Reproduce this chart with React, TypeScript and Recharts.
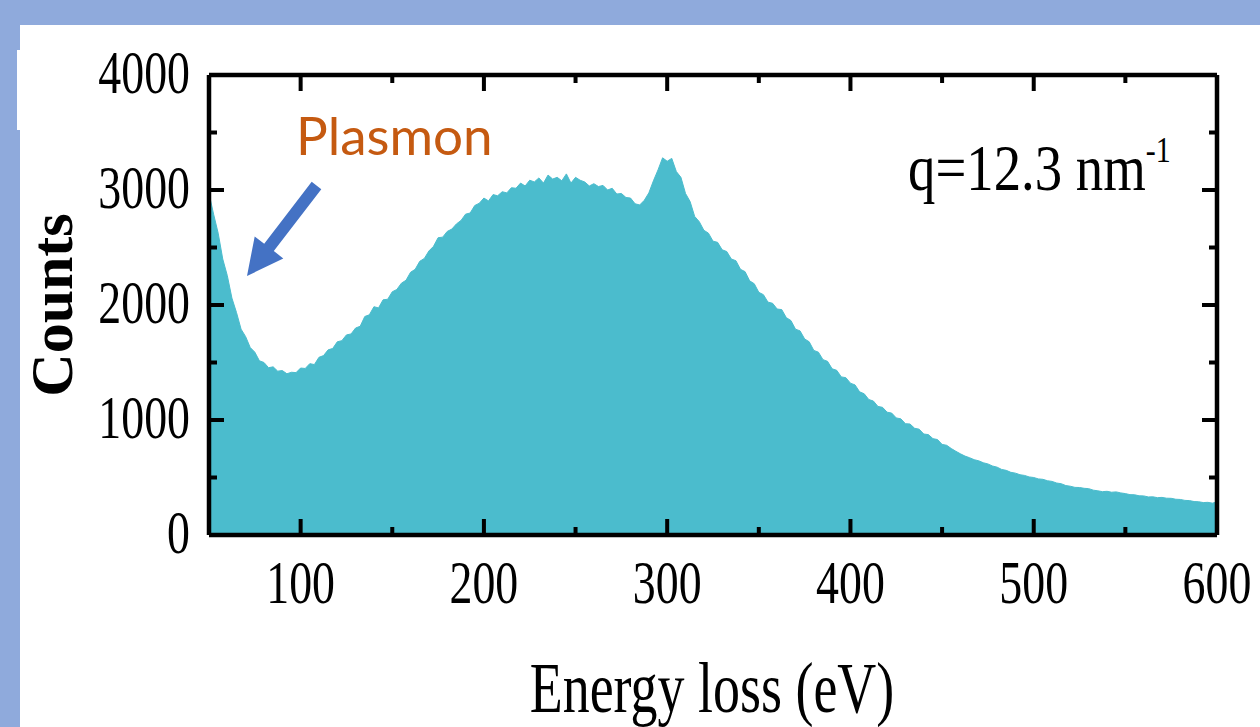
import { AreaChart, Area, XAxis, YAxis } from 'recharts'

// energy grid (eV) and counts
const energy = [
  50, 52.5, 55, 57.5, 60, 62.5, 65, 67.5, 70, 72.5, 75, 77.5, 80, 82.5, 85, 87.5, 90, 92.5, 95, 97.5,
  100, 102.5, 105, 107.5, 110, 112.5, 115, 117.5, 120, 122.5, 125, 127.5, 130, 132.5, 135, 137.5, 140, 142.5, 145, 147.5,
  150, 152.5, 155, 157.5, 160, 162.5, 165, 167.5, 170, 172.5, 175, 177.5, 180, 182.5, 185, 187.5, 190, 192.5, 195, 197.5,
  200, 202.5, 205, 207.5, 210, 212.5, 215, 217.5, 220, 222.5, 225, 227.5, 230, 232.5, 235, 237.5, 240, 242.5, 245, 247.5,
  250, 252.5, 255, 257.5, 260, 262.5, 265, 267.5, 270, 272.5, 275, 277.5, 280, 282.5, 285, 287.5, 290, 292.5, 295, 297.5,
  300, 302.5, 305, 307.5, 310, 312.5, 315, 317.5, 320, 322.5, 325, 327.5, 330, 332.5, 335, 337.5, 340, 342.5, 345, 347.5,
  350, 352.5, 355, 357.5, 360, 362.5, 365, 367.5, 370, 372.5, 375, 377.5, 380, 382.5, 385, 387.5, 390, 392.5, 395, 397.5,
  400, 402.5, 405, 407.5, 410, 412.5, 415, 417.5, 420, 422.5, 425, 427.5, 430, 432.5, 435, 437.5, 440, 442.5, 445, 447.5,
  450, 452.5, 455, 457.5, 460, 462.5, 465, 467.5, 470, 472.5, 475, 477.5, 480, 482.5, 485, 487.5, 490, 492.5, 495, 497.5,
  500, 502.5, 505, 507.5, 510, 512.5, 515, 517.5, 520, 522.5, 525, 527.5, 530, 532.5, 535, 537.5, 540, 542.5, 545, 547.5,
  550, 552.5, 555, 557.5, 560, 562.5, 565, 567.5, 570, 572.5, 575, 577.5, 580, 582.5, 585, 587.5, 590, 592.5, 595, 597.5,
  600,
]

const counts = [
  2970, 2790, 2625, 2400, 2255, 2060, 1935, 1790, 1725, 1630, 1590, 1515, 1500, 1455, 1462, 1425, 1430, 1402, 1415, 1412,
  1452, 1448, 1490, 1482, 1545, 1560, 1610, 1622, 1680, 1690, 1740, 1748, 1800, 1815, 1900, 1915, 1985, 1975, 2045, 2050,
  2115, 2135, 2190, 2215, 2285, 2310, 2380, 2405, 2470, 2510, 2585, 2590, 2640, 2660, 2705, 2735, 2790, 2800, 2865, 2885,
  2930, 2905, 2960, 2950, 2985, 2975, 3020, 3015, 3060, 3035, 3085, 3070, 3105, 3060, 3130, 3095, 3110, 3080, 3140, 3060,
  3110, 3085, 3070, 3035, 3055, 3030, 3040, 3000, 3015, 2965, 2970, 2935, 2930, 2880, 2870, 2910, 2975, 3080, 3175, 3280,
  3250, 3275, 3160, 3110, 2970, 2900, 2770, 2725, 2650, 2625, 2555, 2545, 2480, 2465, 2400, 2385, 2310, 2290, 2210, 2185,
  2110, 2090, 2025, 2015, 1965, 1960, 1890, 1865, 1790, 1775, 1705, 1680, 1605, 1590, 1525, 1510, 1445, 1432, 1375, 1368,
  1320, 1305, 1245, 1228, 1178, 1165, 1118, 1110, 1068, 1060, 1018, 1010, 968, 965, 928, 920, 878, 873, 838, 830,
  788, 780, 752, 728, 706, 686, 672, 655, 645, 628, 618, 600, 590, 570, 562, 545, 538, 524, 518, 505,
  500, 488, 484, 472, 466, 452, 446, 430, 424, 414, 413, 406, 403, 390, 384, 377, 380, 372, 375, 366,
  360, 351, 350, 341, 340, 331, 332, 325, 327, 320, 319, 311, 309, 301, 299, 291, 289, 282, 284, 277,
  288,
]

const xTicks = [100, 150, 200, 250, 300, 350, 400, 450, 500, 550, 600]
const yTicks = [0, 500, 1000, 1500, 2000, 2500, 3000, 3500, 4000]

const data = energy.map((e, i) => ({ e, c: counts[i] }))

const SERIF = '"Liberation Serif", "Times New Roman", serif'
const CYAN = '#4bbccd'

// Origin-style ticks: pointing inward, long for labelled values
function BottomTick(p: any) {
  const { x, y, payload } = p
  const major = payload.value % 100 === 0
  const len = major ? 16 : 8
  return (
    <g>
      <rect x={x - 2} y={y - len} width={4} height={len} fill="#000" />
      {major && (
        <text
          transform={`translate(${x},${y + 68}) scale(0.74,1)`}
          textAnchor="middle"
          fontFamily={SERIF}
          fontSize={62}
          fill="#000"
        >
          {payload.value}
        </text>
      )}
    </g>
  )
}

function TopTick(p: any) {
  const { x, y, payload } = p
  const len = payload.value % 100 === 0 ? 16 : 8
  return (
    <g>
      <rect x={x - 2} y={y} width={4} height={len} fill="#000" />
    </g>
  )
}

function LeftTick(p: any) {
  const { x, y, payload } = p
  const major = payload.value % 1000 === 0
  return (
    <g>
      <rect x={x} y={y - 2} width={major ? 15 : 8} height={4} fill="#000" />
      {major && (
        <text
          transform={`translate(${x - 19},${y + 18}) scale(0.74,1)`}
          textAnchor="end"
          fontFamily={SERIF}
          fontSize={62}
          fill="#000"
        >
          {payload.value}
        </text>
      )}
    </g>
  )
}

function RightTick(p: any) {
  const { x, y, payload } = p
  const len = payload.value % 1000 === 0 ? 15 : 8
  return (
    <g>
      <rect x={x - len} y={y - 2} width={len} height={4} fill="#000" />
    </g>
  )
}

const frame = { stroke: '#000', strokeWidth: 4.5 }
const chartMargin = { top: 65, right: 33, bottom: 182, left: 199 }

// both layers share the same axes; the fill layer hides them so the frame and ticks sit on top
function axes(show: boolean) {
  return [
    <XAxis key="b" dataKey="e" type="number" domain={[50, 600]} ticks={xTicks} interval={0} height={10}
      tickSize={0} tickMargin={0} axisLine={show ? frame : false}
      tick={show ? (q: any) => <BottomTick {...q} /> : false} />,
    <XAxis key="t" xAxisId="top" orientation="top" dataKey="e" type="number" domain={[50, 600]} ticks={xTicks}
      interval={0} height={10} tickSize={0} tickMargin={0} axisLine={show ? frame : false}
      tick={show ? (q: any) => <TopTick {...q} /> : false} />,
    <YAxis key="l" type="number" domain={[0, 4000]} ticks={yTicks} interval={0} width={10}
      tickSize={0} tickMargin={0} axisLine={show ? frame : false}
      tick={show ? (q: any) => <LeftTick {...q} /> : false} />,
    <YAxis key="r" yAxisId="right" orientation="right" type="number" domain={[0, 4000]} ticks={yTicks}
      interval={0} width={10} tickSize={0} tickMargin={0} axisLine={show ? frame : false}
      tick={show ? (q: any) => <RightTick {...q} /> : false} />,
  ]
}

export default function App() {
  return (
    <div style={{ position: 'relative', width: 1260, height: 727, background: '#8faadc', overflow: 'hidden' }}>
      <style>{'body{margin:0}'}</style>
      <div style={{ position: 'absolute', left: 20, top: 25, right: 0, bottom: 0, background: '#fff' }} />
      <div style={{ position: 'absolute', left: 17, top: 50, width: 3, height: 80, background: '#fff' }} />
      <div style={{ position: 'absolute', left: 0, top: 0, width: 1260, height: 727, zIndex: 1 }}>
        <AreaChart width={1260} height={727} data={data} margin={chartMargin}>
          {axes(false)}
          <Area
            type="linear"
            dataKey="c"
            stroke={CYAN}
            strokeWidth={1}
            fill={CYAN}
            fillOpacity={1}
            isAnimationActive={false}
            dot={false}
            activeDot={false}
          />
        </AreaChart>
      </div>
      <div style={{ position: 'absolute', left: 0, top: 0, width: 1260, height: 727, zIndex: 2 }}>
        <AreaChart width={1260} height={727} data={data} margin={chartMargin}>
          {axes(true)}
          <Area type="linear" dataKey="c" stroke="none" fill="none" isAnimationActive={false} dot={false} activeDot={false} />
          <Area xAxisId="top" yAxisId="right" type="linear" dataKey="c" stroke="none" fill="none"
            isAnimationActive={false} dot={false} activeDot={false} />
        </AreaChart>
      </div>
      <svg width={1260} height={727} style={{ position: 'absolute', left: 0, top: 0, zIndex: 3, pointerEvents: 'none' }}>
        <text transform="translate(72,305) rotate(-90)" textAnchor="middle" fontFamily={SERIF} fontWeight="bold" fontSize={60} fill="#000">
          Counts
        </text>
        <text transform="translate(712,712) scale(0.76,1)" textAnchor="middle" fontFamily={SERIF} fontSize={71} fill="#000">
          Energy loss (eV)
        </text>
        <text transform="translate(908,190) scale(0.83,1)" fontFamily={SERIF} fontSize={66} fill="#000">
          q=12.3 nm
          <tspan fontSize={36} dy={-28}>-1</tspan>
        </text>
        <text x={296} y={155} fontFamily="Lato, 'Open Sans', sans-serif" fontSize={53} fill="#c55a11">
          Plasmon
        </text>
        <polygon
          points="311.7,181.8 264.2,243.7 254.7,236.4 247,276 283.3,258.4 273.8,251.1 321.3,189.2"
          fill="#4472c4"
        />
      </svg>
    </div>
  )
}
